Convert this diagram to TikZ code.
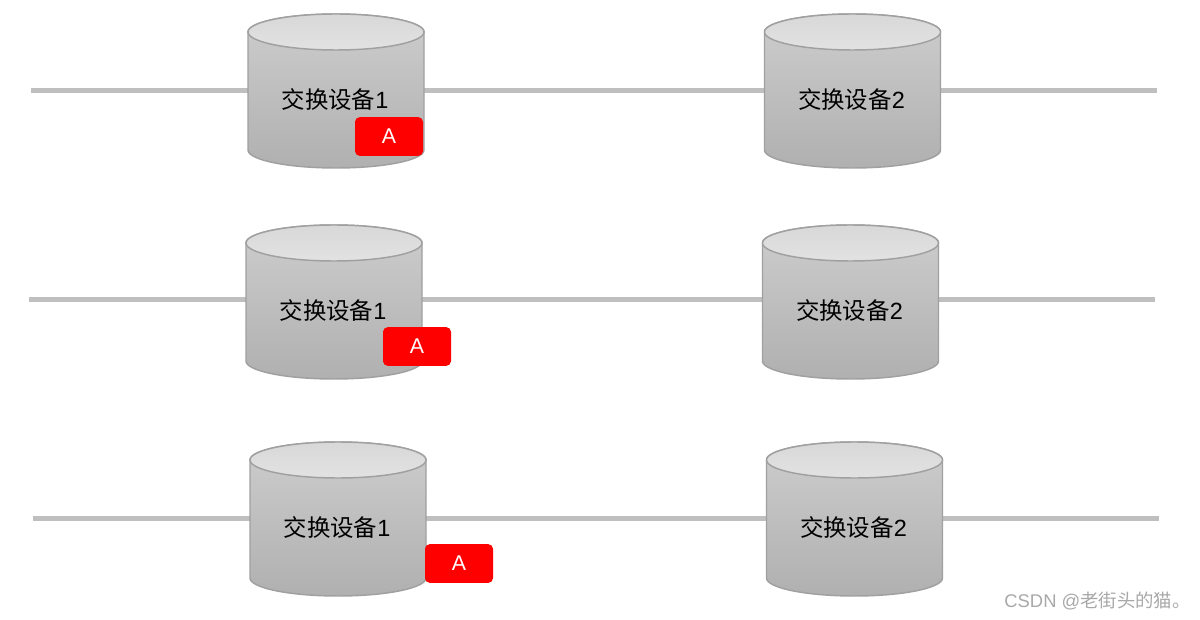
\documentclass[tikz,border=0pt]{standalone}
\usepackage{fontspec}
\setmainfont{Liberation Sans}
\newfontfamily\cjk{Noto Sans CJK SC}
\definecolor{linegray}{HTML}{BFBFBF}
\definecolor{cyledge}{HTML}{A0A0A0}
\definecolor{bodytop}{HTML}{CDCDCD}
\definecolor{bodybot}{HTML}{B0B0B0}
\definecolor{captop}{HTML}{D8D8D8}
\definecolor{capbot}{HTML}{E2E2E2}
\definecolor{tagred}{HTML}{FF0000}
\definecolor{markgray}{HTML}{A8A8A8}
\tikzset{
  linkline/.style={draw=linegray, line width=3.75pt},
  cylbody/.style={draw=cyledge, line width=1.1pt, top color=bodytop, bottom color=bodybot},
  cyltop/.style={draw=cyledge, line width=1.1pt, top color=captop, bottom color=capbot},
  devlabel/.style={inner sep=0pt, font=\fontsize{17.6pt}{20pt}\selectfont},
  tagbox/.style={fill=tagred, rounded corners=3.5pt, minimum width=51pt, minimum height=29pt, inner sep=0pt, text=white, font=\fontsize{16pt}{18pt}\selectfont},
  watermark/.style={inner sep=0pt, text=markgray, font=\fontsize{13.8pt}{16pt}\selectfont}
}
\newcommand\devcyl[4]{%
  \path[cylbody] (#1-88,#2) -- (#1-88,#2+118)
    arc[start angle=180, end angle=360, x radius=66pt, y radius=13.5pt]
    -- (#1+88,#2)
    arc[start angle=0, end angle=180, x radius=66pt, y radius=13.5pt] -- cycle;
  \path[cyltop] (#1,#2) ellipse[x radius=66pt, y radius=13.5pt];
  \node[devlabel] (#4) at (#1-1,#2+68) {#3};
}
\begin{document}
\begin{tikzpicture}[x=0.75pt, y=-0.75pt]
\useasboundingbox (0,0) rectangle (1200,620);
% row 1
\coordinate (r1a) at (31,91);
\coordinate (r1b) at (1157,91);
\draw[linkline] (r1a) -- (r1b);
\devcyl{336}{32}{{\cjk 交换设备}1}{d11}
\devcyl{852.5}{32}{{\cjk 交换设备}2}{d12}
\node[tagbox] (t1) at (389,136.5) {A};
% row 2
\coordinate (r2a) at (29,300);
\coordinate (r2b) at (1155,300);
\draw[linkline] (r2a) -- (r2b);
\devcyl{334}{243}{{\cjk 交换设备}1}{d21}
\devcyl{850.5}{243}{{\cjk 交换设备}2}{d22}
\node[tagbox] (t2) at (417,346.5) {A};
% row 3
\coordinate (r3a) at (33,518);
\coordinate (r3b) at (1159,518);
\draw[linkline] (r3a) -- (r3b);
\devcyl{338}{460}{{\cjk 交换设备}1}{d31}
\devcyl{854.5}{460}{{\cjk 交换设备}2}{d32}
\node[tagbox] (t3) at (459,563.5) {A};
% watermark
\node[watermark, anchor=east] (wm) at (1191,601) {CSDN @{\cjk 老街头的猫。}};
\end{tikzpicture}
\end{document}
